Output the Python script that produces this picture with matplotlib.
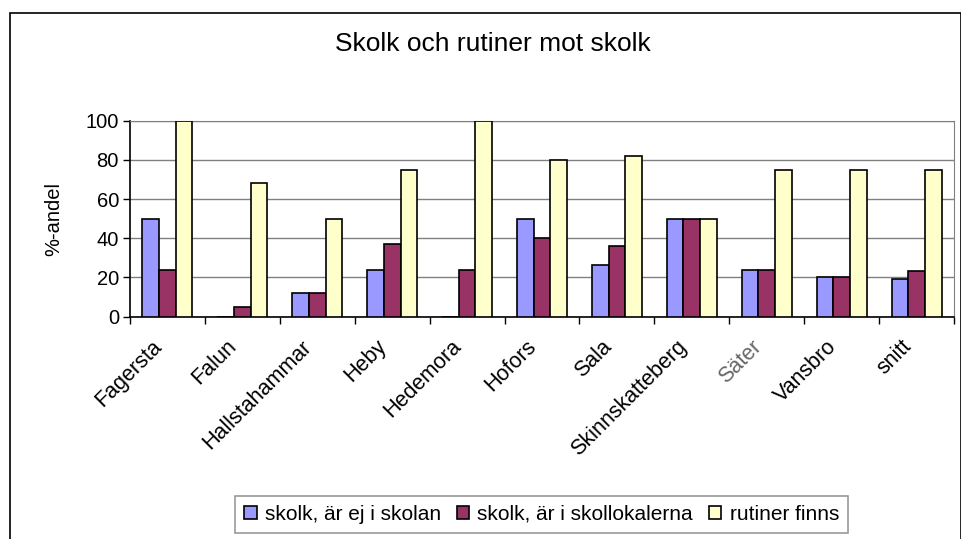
import matplotlib.pyplot as plt
import matplotlib.patches as mpatches
import matplotlib.transforms as mtransforms
import numpy as np

plt.rcParams['font.family'] = ['Liberation Sans', 'DejaVu Sans']

kommuner = ['Fagersta', 'Falun', 'Hallstahammar', 'Heby', 'Hedemora', 'Hofors',
            'Sala', 'Skinnskatteberg', 'Säter', 'Vansbro', 'snitt']
ej_i_skolan = [50, 0, 12, 24, 0, 50, 26.5, 50, 24, 20, 19]
i_skollokalerna = [24, 5, 12, 37, 24, 40, 36, 50, 24, 20, 23.5]
rutiner_finns = [100, 68, 50, 75, 100, 80, 82, 50, 75, 75, 75]

series = [ej_i_skolan, i_skollokalerna, rutiner_finns]
names = ['skolk, är ej i skolan', 'skolk, är i skollokalerna', 'rutiner finns']
colors = ['#9999FF', '#993366', '#FFFFCC']

W, H = 962, 539
fig = plt.figure(figsize=(W / 100, H / 100), dpi=100)

# outer chart frame
fig.patches.append(mpatches.Rectangle((10 / W, -0.05), (951 / W), 1 - 13 / H + 0.05,
                                      transform=fig.transFigure, fill=False,
                                      edgecolor='#000000', lw=1.2))

ax = fig.add_axes([130 / W, 1 - 316.7 / H, (954 - 130) / W, (316.7 - 120.7) / H])

x = np.arange(len(kommuner))
bw = 1 / 4.5
for i, (vals, c) in enumerate(zip(series, colors)):
    ax.bar(x + (i - 1) * bw, vals, bw, color=c, edgecolor='black', lw=1.2,
           zorder=3, label=names[i])

ax.set_xlim(-0.5, len(kommuner) - 0.5)
ax.set_ylim(0, 100)
ax.set_yticks(np.arange(0, 101, 20))
ax.yaxis.grid(True, color='#808080', lw=1.0, zorder=0)
ax.tick_params(axis='y', labelsize=14.5, length=5, width=1, pad=3)

ax.set_xticks(x)
ax.set_xticklabels(kommuner, rotation=45, ha='right', rotation_mode='anchor', fontsize=15.5)
ax.set_xticks(np.arange(-0.5, len(kommuner), 1), minor=True)
ax.tick_params(axis='x', which='major', length=0, pad=14)
ax.tick_params(axis='x', which='minor', length=5, width=1)
off = mtransforms.ScaledTranslation(-16 / 100, 0, fig.dpi_scale_trans)
for lbl in ax.get_xticklabels():
    lbl.set_transform(lbl.get_transform() + off)
    if lbl.get_text() == 'Säter':
        lbl.set_color('#666666')

ax.spines['top'].set_color('#808080')
ax.spines['right'].set_color('#808080')
ax.spines['left'].set_linewidth(1.2)
ax.spines['bottom'].set_linewidth(1.2)

ax.set_ylabel('%-andel', fontsize=14.5, labelpad=16)

fig.text(493 / W, 1 - 44 / H, 'Skolk och rutiner mot skolk', fontsize=19,
         ha='center', va='center')

leg = fig.legend(loc='center', bbox_to_anchor=(541.5 / W, 1 - 514.5 / H), ncol=3,
                 fontsize=15, frameon=True, fancybox=False, handlelength=0.6,
                 handleheight=0.6, handletextpad=0.4, columnspacing=0.75,
                 borderpad=0.45, borderaxespad=0)
leg.get_frame().set_edgecolor('#808080')
leg.get_frame().set_linewidth(1.2)

fig.savefig('out.png', dpi=100)
